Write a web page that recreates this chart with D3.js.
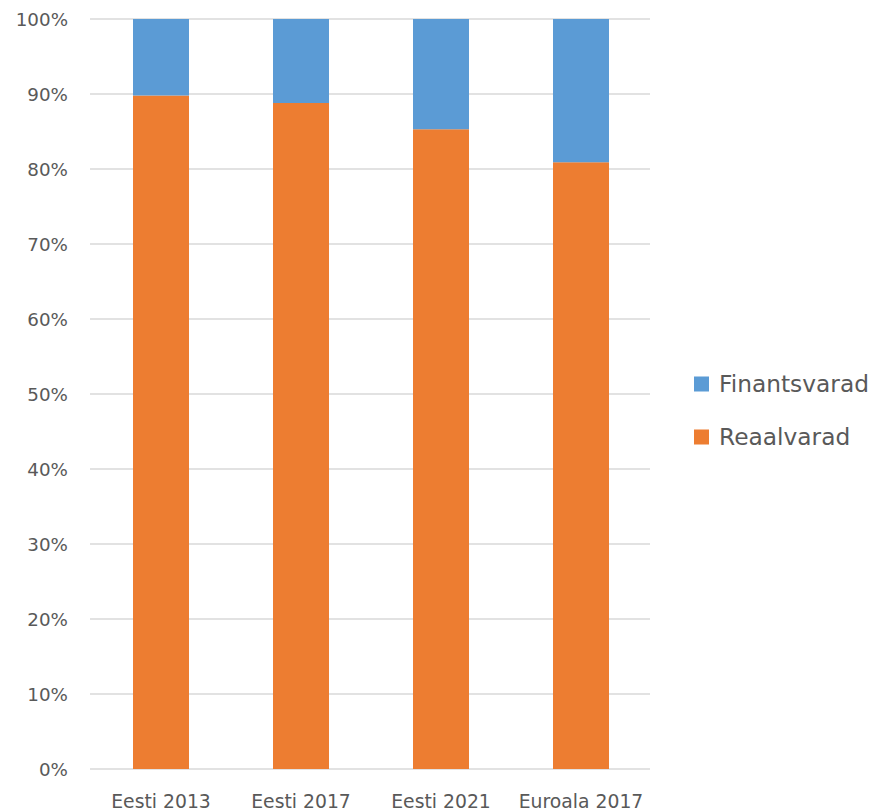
<!DOCTYPE html>
<html>
<head>
<meta charset="utf-8">
<script src="https://cdn.jsdelivr.net/npm/d3@7"></script>
<style>
  body { margin: 0; background: #fff; }
  text { font-family: "DejaVu Sans", "Open Sans", sans-serif; fill: #595959; }
</style>
</head>
<body>
<div id="chart"></div>
<script>
// chart data
var categories = ["Eesti 2013", "Eesti 2017", "Eesti 2021", "Euroala 2017"];
var reaalvarad = [89.8, 88.8, 85.3, 80.9];
var finantsvarad = [10.2, 11.2, 14.7, 19.1];
var seriesNames = ["Finantsvarad", "Reaalvarad"];
var yTicks = [0, 10, 20, 30, 40, 50, 60, 70, 80, 90, 100];

var colors = { "Reaalvarad": "#ed7d31", "Finantsvarad": "#5b9bd5" };

var width = 873, height = 812;
var margin = { top: 19, left: 91, right: 222, bottom: 43 };

var svg = d3.select("#chart").append("svg")
    .attr("width", width)
    .attr("height", height);

var x = d3.scaleBand()
    .domain(categories)
    .range([margin.left, width - margin.right])
    .paddingInner(0.6)
    .paddingOuter(0.3);

var y = d3.scaleLinear()
    .domain([0, 100])
    .range([height - margin.bottom, margin.top]);

// gridlines
svg.append("g")
    .selectAll("line")
    .data(yTicks)
    .enter()
    .append("line")
    .attr("x1", 90)
    .attr("x2", 650)
    .attr("y1", function (d) { return y(d); })
    .attr("y2", function (d) { return y(d); })
    .attr("stroke", "#d9d9d9")
    .attr("stroke-width", 1.3);

// y labels
svg.append("g")
    .selectAll("text")
    .data(yTicks)
    .enter()
    .append("text")
    .attr("x", 68)
    .attr("y", function (d) { return y(d); })
    .attr("dy", "0.36em")
    .attr("text-anchor", "end")
    .style("font-size", "18.3px")
    .text(function (d) { return d + "%"; });

// stacked bars
var rows = categories.map(function (c, i) {
    return { cat: c, Reaalvarad: reaalvarad[i], Finantsvarad: finantsvarad[i] };
});
var stack = d3.stack().keys(["Reaalvarad", "Finantsvarad"]);
var layers = stack(rows);

svg.append("g")
    .selectAll("g")
    .data(layers)
    .enter()
    .append("g")
    .attr("fill", function (d) { return colors[d.key]; })
    .selectAll("rect")
    .data(function (d) { return d; })
    .enter()
    .append("rect")
    .attr("x", function (d) { return x(d.data.cat); })
    .attr("width", x.bandwidth())
    .attr("y", function (d) { return y(d[1]); })
    .attr("height", function (d) { return y(d[0]) - y(d[1]); });

// x labels
svg.append("g")
    .selectAll("text")
    .data(categories)
    .enter()
    .append("text")
    .attr("x", function (d) { return x(d) + x.bandwidth() / 2; })
    .attr("y", 801)
    .attr("dy", "0.36em")
    .attr("text-anchor", "middle")
    .style("font-size", "18.8px")
    .text(function (d) { return d; });

// legend
var legend = svg.append("g")
    .selectAll("g")
    .data(seriesNames)
    .enter()
    .append("g")
    .attr("transform", function (d, i) { return "translate(694," + (384 + i * 53) + ")"; });

legend.append("rect")
    .attr("x", 0)
    .attr("y", -7.5)
    .attr("width", 15)
    .attr("height", 15)
    .attr("fill", function (d) { return colors[d]; });

legend.append("text")
    .attr("x", 25)
    .attr("y", 0)
    .attr("dy", "0.36em")
    .style("font-size", "23.3px")
    .text(function (d) { return d; });
</script>
</body>
</html>
